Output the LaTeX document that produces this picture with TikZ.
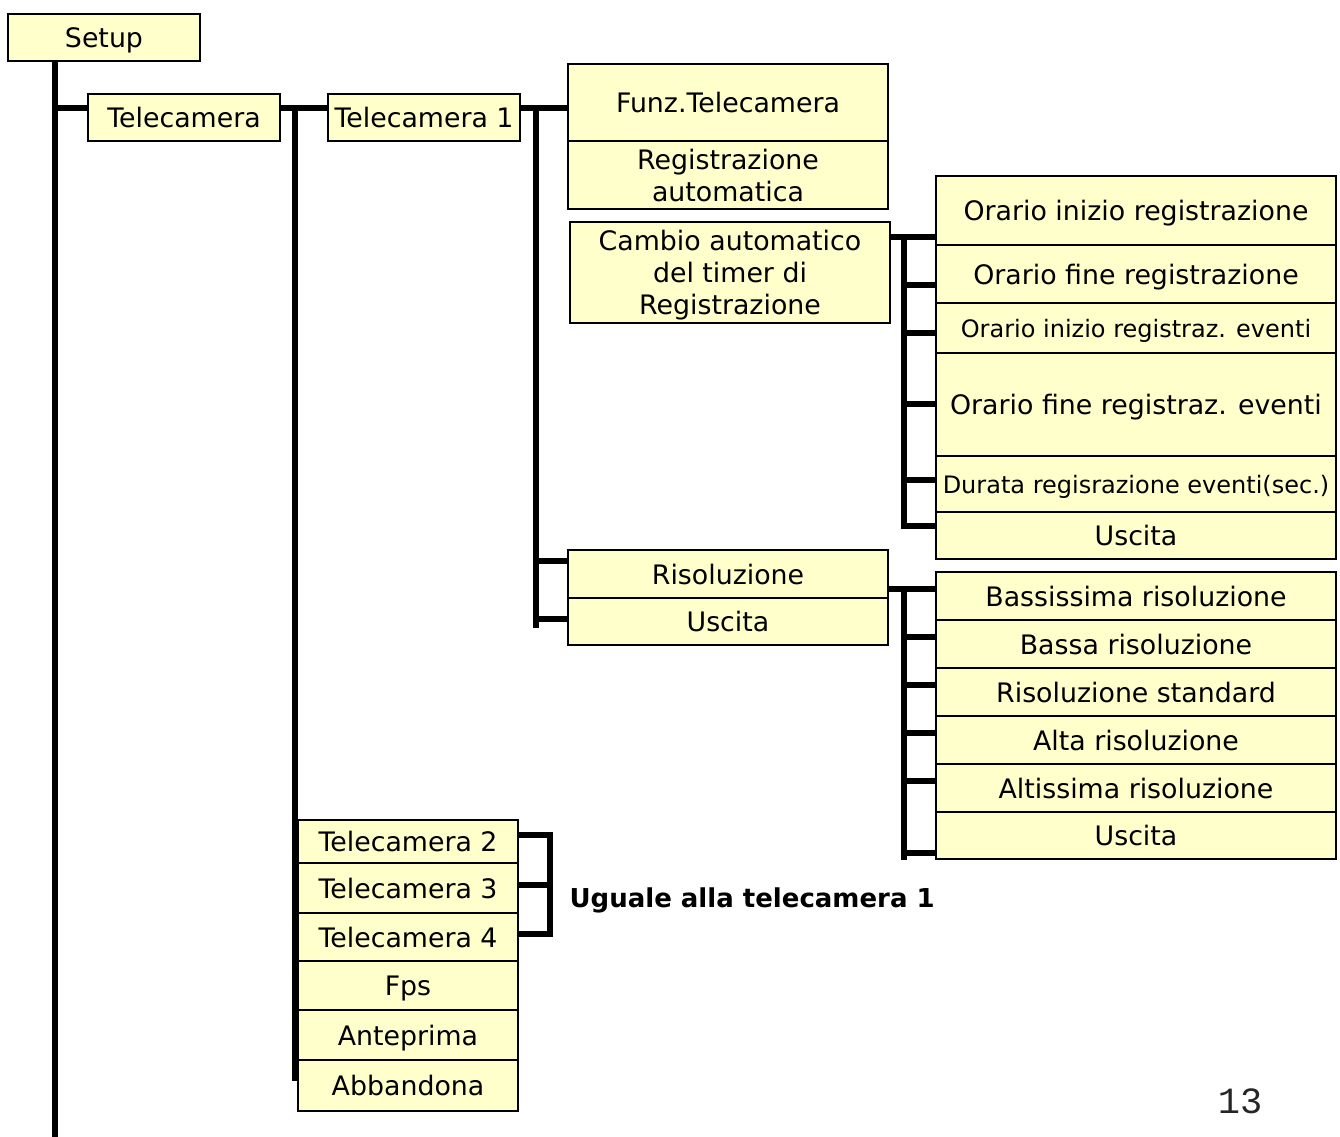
\documentclass[tikz,border=0pt]{standalone}
\usepackage{fontspec}
\setmainfont{DejaVu Sans}
\newfontfamily\pagefont{Liberation Mono}
\usetikzlibrary{positioning,backgrounds}
\definecolor{menufill}{HTML}{FFFFCC}

\begin{document}
\begin{tikzpicture}[x=1pt, y=-1pt, node distance=0pt]
	\tikzstyle{menu}=[draw=black, fill=menufill, line width=1.6pt, outer sep=0pt, inner sep=0pt, text depth=0pt, align=center, font=\fontsize{26.8}{32}\selectfont]
	\tikzstyle{small}=[font=\fontsize{24}{28}\selectfont]
	\tikzstyle{bus}=[line width=5.5pt, line cap=rect]

	\useasboundingbox (0,0) rectangle (1340,1136);

	% first levels
	\node[menu, anchor=north west, minimum width=192pt, minimum height=47pt] (setup) at (8,14) {Setup};
	\node[menu, anchor=north west, minimum width=192pt, minimum height=47pt] (tele) at (88,94) {Telecamera};
	\node[menu, anchor=north west, minimum width=192pt, minimum height=47pt] (tele1) at (328,94) {Telecamera 1};

	% menu of telecamera 1
	\node[menu, anchor=north west, minimum width=320pt, minimum height=77pt] (funz) at (568,64) {Funz.Telecamera};
	\node[menu, below=of funz, minimum width=320pt, minimum height=68pt] (regauto) {Registrazione\\automatica};
	\node[menu, anchor=north west, minimum width=320pt, minimum height=101pt] (cambio) at (570,222) {Cambio automatico\\del timer di\\Registrazione};
	\node[menu, anchor=north west, minimum width=320pt, minimum height=48pt] (risol) at (568,550) {Risoluzione};
	\node[menu, below=of risol, minimum width=320pt, minimum height=47pt] (uscR) {Uscita};

	% timer
	\node[menu, anchor=north west, minimum width=400pt, minimum height=69pt] (orIn) at (936,176) {Orario inizio registrazione};
	\node[menu, below=of orIn, minimum width=400pt, minimum height=58pt] (orFin) {Orario fine registrazione};
	\node[menu, small, below=of orFin, minimum width=400pt, minimum height=50pt] (orInEv) {Orario inizio registraz. eventi};
	\node[menu, below=of orInEv, minimum width=400pt, minimum height=103pt] (orFinEv) {Orario fine registraz. eventi};
	\node[menu, small, below=of orFinEv, minimum width=400pt, minimum height=56pt] (durata) {Durata regisrazione eventi(sec.)};
	\node[menu, below=of durata, minimum width=400pt, minimum height=47pt] (uscT) {Uscita};

	% risoluzione
	\node[menu, anchor=north west, minimum width=400pt, minimum height=48pt] (bass2) at (936,572) {Bassissima risoluzione};
	\node[menu, below=of bass2, minimum width=400pt, minimum height=48pt] (bassa) {Bassa risoluzione};
	\node[menu, below=of bassa, minimum width=400pt, minimum height=48pt] (std) {Risoluzione standard};
	\node[menu, below=of std, minimum width=400pt, minimum height=48pt] (alta) {Alta risoluzione};
	\node[menu, below=of alta, minimum width=400pt, minimum height=48pt] (altis) {Altissima risoluzione};
	\node[menu, below=of altis, minimum width=400pt, minimum height=47pt] (uscB) {Uscita};

	% other cameras
	\node[menu, anchor=north west, minimum width=220pt, minimum height=43pt] (tele2) at (298,820) {Telecamera 2};
	\node[menu, below=of tele2, minimum width=220pt, minimum height=50pt] (tele3) {Telecamera 3};
	\node[menu, below=of tele3, minimum width=220pt, minimum height=48pt] (tele4) {Telecamera 4};
	\node[menu, below=of tele4, minimum width=220pt, minimum height=49pt] (fps) {Fps};
	\node[menu, below=of fps, minimum width=220pt, minimum height=50pt] (antep) {Anteprima};
	\node[menu, below=of antep, minimum width=220pt, minimum height=51pt] (abband) {Abbandona};

	\node[anchor=west, font=\bfseries\fontsize{26}{32}\selectfont] (same) at (566,900) {Uguale alla telecamera 1};
	\node[text=black!85, font=\pagefont\fontsize{37}{40}\selectfont] (pagenum) at (1240,1101) {13};

	\begin{scope}[on background layer]
		% setup and telecamera
		\coordinate (endA) at (55,1136);
		\coordinate (jA) at (55,108);
		\draw[bus] (setup.south -| endA) -- (endA);
		\draw[bus] (jA) -- (jA -| tele.west);
		\draw[bus] (jA -| tele.east) -- (jA -| tele1.west);
		\coordinate (topB) at (295,108);
		\coordinate (endB) at (295,1078);
		\draw[bus] (topB) -- (endB);

		% telecamera 1
		\draw[bus] (jA -| tele1.east) -- (jA -| funz.west);
		\coordinate (topC) at (536,108);
		\coordinate (endC) at (536,625);
		\draw[bus] (topC) -- (endC);
		\foreach \y/\m in {561/risol, 619/uscR} {
			\coordinate (s) at (536,\y);
			\draw[bus] (s) -- (s -| \m.west);
		}

		% timer
		\coordinate (topD) at (904,237);
		\coordinate (endD) at (904,526);
		\draw[bus] (topD -| cambio.east) -- (topD -| orIn.west);
		\draw[bus] (topD) -- (endD);
		\foreach \y/\m in {285/orFin, 333/orInEv, 404/orFinEv, 480/durata, 526/uscT} {
			\coordinate (s) at (904,\y);
			\draw[bus] (s) -- (s -| \m.west);
		}

		% risoluzione
		\coordinate (topE) at (904,589);
		\coordinate (endE) at (904,857);
		\draw[bus] (topE -| risol.east) -- (topE -| bass2.west);
		\draw[bus] (topE) -- (endE);
		\foreach \y/\m in {637/bassa, 685/std, 733/alta, 781/altis, 853/uscB} {
			\coordinate (s) at (904,\y);
			\draw[bus] (s) -- (s -| \m.west);
		}

		% bracket
		\coordinate (brTop) at (550,835);
		\coordinate (brMid) at (550,885);
		\coordinate (brBot) at (550,934);
		\draw[bus, line cap=butt] (brTop -| tele2.east) -- (brTop) -- (brBot) -- (brBot -| tele4.east);
		\draw[bus] (brMid -| tele3.east) -- (brMid);
	\end{scope}
\end{tikzpicture}
\end{document}
